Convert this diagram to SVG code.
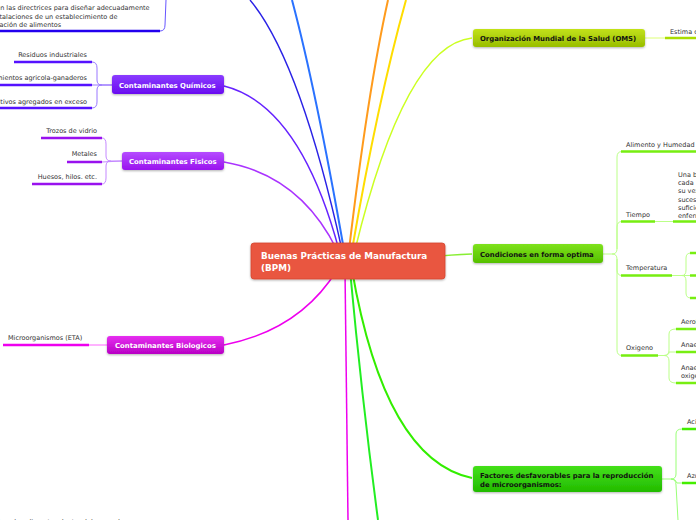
<svg xmlns="http://www.w3.org/2000/svg" width="696" height="520" viewBox="0 0 696 520">
<style>
.nt{font-family:"DejaVu Sans",Verdana,sans-serif;font-weight:bold;font-size:6.9px}
.ct{font-family:"DejaVu Sans",Verdana,sans-serif;font-size:6.5px;fill:#333}
.bar{fill:none;stroke-width:2.5}
.thin{fill:none;stroke-width:1}
.main{fill:none}
</style>
<defs>
<filter id="sh" x="-10%" y="-30%" width="120%" height="170%">
<feDropShadow dx="0" dy="1" stdDeviation="1" flood-color="#000" flood-opacity="0.3"/>
</filter>
<linearGradient id="gQ" x1="0" y1="0" x2="0" y2="1"><stop offset="0" stop-color="#8a3bff"/><stop offset="1" stop-color="#6a0cf0"/></linearGradient>
<linearGradient id="gF" x1="0" y1="0" x2="0" y2="1"><stop offset="0" stop-color="#b54cff"/><stop offset="1" stop-color="#9a14ee"/></linearGradient>
<linearGradient id="gB" x1="0" y1="0" x2="0" y2="1"><stop offset="0" stop-color="#e62ef0"/><stop offset="1" stop-color="#b800c4"/></linearGradient>
<linearGradient id="gO" x1="0" y1="0" x2="0" y2="1"><stop offset="0" stop-color="#c2e21a"/><stop offset="1" stop-color="#98bd00"/></linearGradient>
<linearGradient id="gC" x1="0" y1="0" x2="0" y2="1"><stop offset="0" stop-color="#7ee21c"/><stop offset="1" stop-color="#56c000"/></linearGradient>
<linearGradient id="gA" x1="0" y1="0" x2="0" y2="1"><stop offset="0" stop-color="#44e01a"/><stop offset="1" stop-color="#22bb00"/></linearGradient>
</defs>
<rect width="696" height="520" fill="#fff"/>

<g id="connectors">
  <!-- main branches -->
  <path class="main" d="M250,0 Q300,60 342,250" stroke="#2a22e6" stroke-width="1.4"/>
  <path class="main" d="M292,0 Q316,90 344,250" stroke="#2a72ff" stroke-width="2"/>
  <path class="main" d="M388,0 Q368,90 349,250" stroke="#ff9b1c" stroke-width="2"/>
  <path class="main" d="M406,0 Q378,100 352,250" stroke="#ffdd00" stroke-width="2"/>
  <path class="main" d="M472,38 Q405,45 355,250" stroke="#ccff22" stroke-width="1.5"/>
  <path class="main" d="M224,86 Q300,105 339,250" stroke="#6622ff" stroke-width="1.5"/>
  <path class="main" d="M224,162 Q300,175 337,250" stroke="#aa33ff" stroke-width="1.5"/>
  <path class="main" d="M224,345 Q300,330 337,270" stroke="#ee00ee" stroke-width="1.5"/>
  <path class="main" d="M345,270 L348,520" stroke="#ee00ee" stroke-width="1.5"/>
  <path class="main" d="M350,270 Q362,400 378,520" stroke="#22ee22" stroke-width="2"/>
  <path class="main" d="M352,270 Q385,460 472,478" stroke="#33ee00" stroke-width="2"/>
  <path class="main" d="M400,260 Q430,256 472,254" stroke="#88ee33" stroke-width="1.5"/>

  <!-- top-left -->
  <path class="bar" d="M0,31 L160,31" stroke="#2200ee"/>
  <path class="thin" d="M160,31 Q165,31 165,25 L166,0" stroke="#6655ff"/>

  <!-- Quimicos -->
  <path class="thin" stroke="#9977ff" d="M92,62 Q97,62 97,68 L97,80 Q97,85 102,85 L112,85 M92,85 L112,85 M92,108 Q97,108 97,102 L97,90 Q97,85 102,85"/>
  <path class="bar" stroke="#5511ff" d="M14,62 L92,62 M0,85 L92,85 M0,108 L92,108"/>

  <!-- Fisicos -->
  <path class="thin" stroke="#c488ff" d="M102,138 Q106,138 106,144 L106,156 Q106,161 111,161 L122,161 M102,162 L122,161 M102,184 Q106,184 106,178 L106,166 Q106,161 111,161"/>
  <path class="bar" stroke="#9911ee" d="M41,138 L102,138 M67,162 L102,162 M32,184 L102,184"/>

  <!-- Biologicos -->
  <path class="thin" stroke="#ff66ff" d="M89,345 L107,345"/>
  <path class="bar" stroke="#ee00ee" d="M3,345 L89,345"/>

  <!-- OMS -->
  <path class="thin" stroke="#ddff77" d="M645,38 L665,38"/>
  <path class="bar" stroke="#aadd00" d="M665,38 L696,38"/>

  <!-- Condiciones -->
  <path class="thin" stroke="#bbff88" d="M602,254 L612,254 M612,254 Q617,254 617,249 L617,157 Q617,151.5 622,151.5 M617,249 L617,227 Q617,221.5 622,221.5 M612,254 Q617,254 617,259 L617,270 Q617,275.5 622,275.5 M617,259 L617,350 Q617,355.5 622,355.5"/>
  <path class="thin" stroke="#bbff88" d="M655,221.5 L673,221.5"/>
  <path class="thin" stroke="#bbff88" d="M672,275.5 L682,275.5 M682,275.5 Q686,275.5 686,270 L686,258 Q686,253 691,253 M682,275.5 L691,275.5 M682,275.5 Q686,275.5 686,281 L686,293 Q686,298 691,298"/>
  <path class="thin" stroke="#bbff88" d="M658,355.5 L664,355.5 M664,355.5 Q669,355.5 669,350 L669,334 Q669,329 676,329 M664,355.5 Q669,355.5 669,352 L676,352 M664,355.5 Q669,355.5 669,361 L669,378 Q669,383 676,383"/>
  <path class="bar" stroke="#77ee11" d="M621,151.5 L696,151.5 M621,221.5 L655,221.5 M673,221.5 L696,221.5 M621,275.5 L672,275.5 M690,253 L696,253 M690,275.5 L696,275.5 M690,298 L696,298 M621,355.5 L658,355.5 M676,329 L696,329 M676,352 L696,352 M676,383 L696,383"/>

  <!-- Factores -->
  <path class="thin" stroke="#99ff77" d="M662,479 L671,479 M671,479 Q676,479 676,474 L676,434 Q676,429 682,429 M671,479 Q676,479 677,483 L682,483 M671,479 Q676,479 676,485 L678,520"/>
  <path class="bar" stroke="#44ee00" d="M682,429 L696,429 M682,483 L696,483"/>
</g>

<g id="bpm">
  <rect x="251" y="243" width="194" height="36" rx="3" fill="#e9573f" stroke="#d4462f" stroke-width="0.8" filter="url(#sh)"/>
  <text x="261" y="259" font-family="DejaVu Sans,Verdana,sans-serif" font-weight="bold" font-size="8.8" fill="#fff">Buenas Prácticas de Manufactura</text>
  <text x="261" y="271" font-family="DejaVu Sans,Verdana,sans-serif" font-weight="bold" font-size="8.8" fill="#fff">(BPM)</text>
</g>

<g id="directrices">
  <text class="ct" x="-21" y="10">Brindan las directrices para diseñar adecuadamente</text>
  <text class="ct" x="-21" y="18.5">las instalaciones de un establecimiento de</text>
  <text class="ct" x="-21" y="27">elaboración de alimentos</text>
</g>

<g id="quimicos">
  <rect x="112" y="75" width="112" height="19" rx="3" fill="url(#gQ)" filter="url(#sh)"/>
  <text class="nt" x="119" y="88" fill="#fff">Contaminantes Químicos</text>
</g>
<g id="residuos"><text class="ct" x="87" y="57" text-anchor="end">Residuos industriales</text></g>
<g id="tratamientos"><text class="ct" x="87" y="80" text-anchor="end">Tratamientos agricola-ganaderos</text></g>
<g id="aditivos"><text class="ct" x="87" y="103.5" text-anchor="end">Aditivos agregados en exceso</text></g>

<g id="fisicos">
  <rect x="122" y="152" width="102" height="18" rx="3" fill="url(#gF)" filter="url(#sh)"/>
  <text class="nt" x="129" y="164" fill="#fff">Contaminantes Fisicos</text>
</g>
<g id="vidrio"><text class="ct" x="97" y="133" text-anchor="end">Trozos de vidrio</text></g>
<g id="metales"><text class="ct" x="97" y="156" text-anchor="end">Metales</text></g>
<g id="huesos"><text class="ct" x="97" y="179" text-anchor="end">Huesos, hilos. etc.</text></g>

<g id="biologicos">
  <rect x="107" y="336" width="117" height="18" rx="3" fill="url(#gB)" filter="url(#sh)"/>
  <text class="nt" x="115" y="348" fill="#fff">Contaminantes Biologicos</text>
</g>
<g id="micro"><text class="ct" x="8" y="340">Microorganismos (ETA)</text></g>

<g id="mantiene"><text class="ct" x="-18" y="524">Mantiene los alimentos dentro del rango de</text></g>

<g id="oms">
  <rect x="473" y="29" width="172" height="18" rx="3" fill="url(#gO)" filter="url(#sh)"/>
  <text class="nt" x="480" y="41" fill="#111">Organización Mundial de la Salud (OMS)</text>
</g>
<g id="estima"><text class="ct" x="670" y="34">Estima cada</text></g>

<g id="condiciones">
  <rect x="473" y="244" width="130" height="19" rx="3" fill="url(#gC)" filter="url(#sh)"/>
  <text class="nt" x="480" y="257" fill="#111">Condiciones en forma optima</text>
</g>
<g id="alimento"><text class="ct" x="626" y="147">Alimento y Humedad</text></g>
<g id="tiempo"><text class="ct" x="626" y="217">Tiempo</text></g>
<g id="bacteria">
  <text class="ct" x="678" y="176.5">Una bacteria</text>
  <text class="ct" x="678" y="185">cada</text>
  <text class="ct" x="678" y="193.3">su vez</text>
  <text class="ct" x="678" y="201.6">sucesivamente</text>
  <text class="ct" x="678" y="210">suficiente</text>
  <text class="ct" x="678" y="218.3">enfermedad</text>
</g>
<g id="temperatura"><text class="ct" x="626" y="270">Temperatura</text></g>
<g id="oxigeno"><text class="ct" x="626" y="350">Oxigeno</text></g>
<g id="aerobios"><text class="ct" x="681" y="323.5">Aerobios</text></g>
<g id="anaerobios"><text class="ct" x="681" y="346.5">Anaerobios</text></g>
<g id="facultativos">
  <text class="ct" x="681" y="369.5">Anaerobios</text>
  <text class="ct" x="681" y="378">oxigeno</text>
</g>

<g id="factores">
  <rect x="473" y="466" width="189" height="26" rx="3" fill="url(#gA)" filter="url(#sh)"/>
  <text class="nt" x="480" y="477.5" fill="#111">Factores desfavorables para la reproducción</text>
  <text class="nt" x="480" y="487" fill="#111">de microorganismos:</text>
</g>
<g id="acidez"><text class="ct" x="687" y="424">Acidez</text></g>
<g id="azucar"><text class="ct" x="687" y="478">Azúcar</text></g>
</svg>
